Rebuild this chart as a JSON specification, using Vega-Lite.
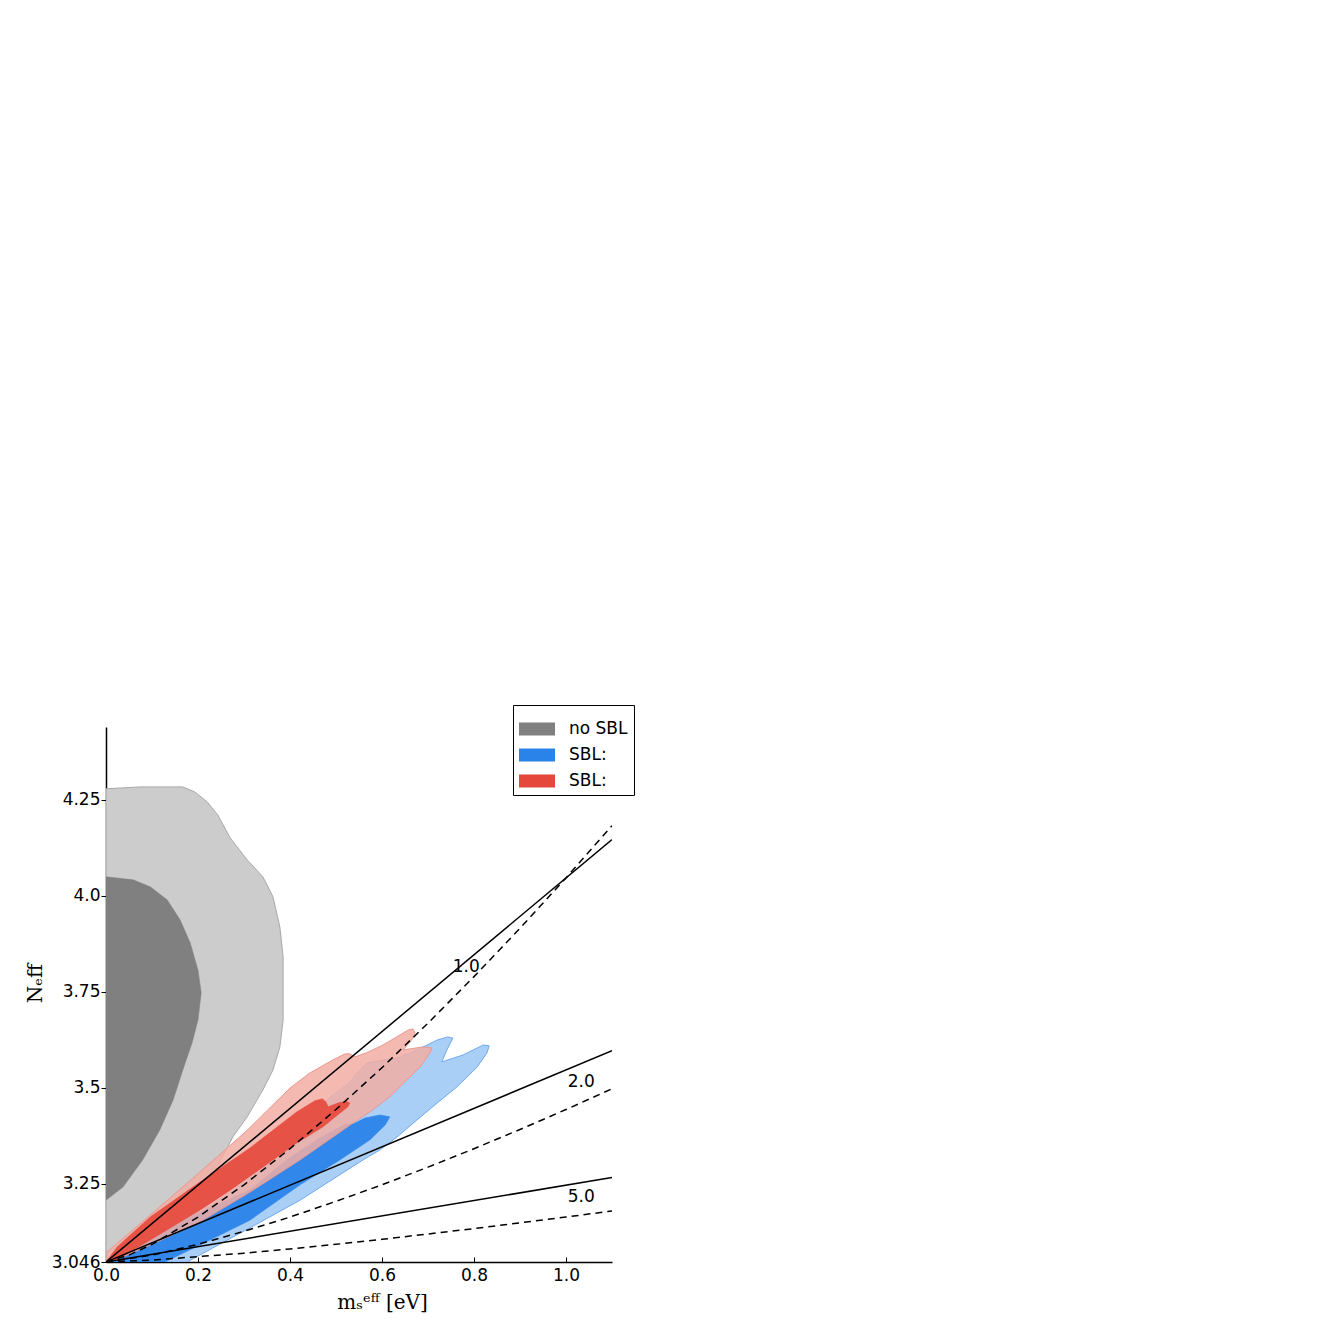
{
  "$schema": "https://vega.github.io/schema/vega-lite/v6.json",
  "autosize": {"type": "none"},
  "width": 506,
  "height": 535,
  "padding": {"left": 106, "top": 727, "right": 728, "bottom": 78},
  "background": "white",
  "config": {
    "view": {"stroke": null},
    "axis": {"grid": false, "domainColor": "black", "tickColor": "black", "labelColor": "black", "titleColor": "black", "labelFont": "DejaVu Sans", "labelFontSize": 17, "labelFlush": false, "labelOverlap": false, "labelBound": false, "domainWidth": 1.5, "tickWidth": 1}
  },
  "datasets": {
    "grayOuter": [
      {"x":0,"y":4.278,"o":1},{"x":0.074,"y":4.283,"o":2},{"x":0.167,"y":4.283,"o":3},{"x":0.193,"y":4.270,"o":4},{"x":0.220,"y":4.244,"o":5},{"x":0.243,"y":4.210,"o":6},{"x":0.270,"y":4.150,"o":7},{"x":0.307,"y":4.093,"o":8},{"x":0.341,"y":4.049,"o":9},{"x":0.363,"y":3.997,"o":10},{"x":0.378,"y":3.918,"o":11},{"x":0.385,"y":3.840,"o":12},{"x":0.385,"y":3.754,"o":13},{"x":0.385,"y":3.676,"o":14},{"x":0.378,"y":3.606,"o":15},{"x":0.363,"y":3.546,"o":16},{"x":0.341,"y":3.494,"o":17},{"x":0.307,"y":3.424,"o":18},{"x":0.276,"y":3.372,"o":19},{"x":0.204,"y":3.207,"o":20},{"x":0.133,"y":3.046,"o":21},{"x":0,"y":3.046,"o":22},{"x":0,"y":4.278,"o":23}
    ],
    "grayInner": [
      {"x":0,"y":4.049,"o":1},{"x":0.059,"y":4.041,"o":2},{"x":0.096,"y":4.023,"o":3},{"x":0.133,"y":3.989,"o":4},{"x":0.161,"y":3.937,"o":5},{"x":0.183,"y":3.877,"o":6},{"x":0.200,"y":3.806,"o":7},{"x":0.207,"y":3.747,"o":8},{"x":0.200,"y":3.676,"o":9},{"x":0.187,"y":3.616,"o":10},{"x":0.167,"y":3.546,"o":11},{"x":0.146,"y":3.468,"o":12},{"x":0.117,"y":3.390,"o":13},{"x":0.080,"y":3.312,"o":14},{"x":0.037,"y":3.241,"o":15},{"x":0,"y":3.207,"o":16},{"x":0,"y":4.049,"o":17}
    ],
    "blueLight": [
      {"x":0.009,"y":3.046,"o":1},{"x":0.046,"y":3.082,"o":2},{"x":0.161,"y":3.176,"o":3},{"x":0.270,"y":3.265,"o":4},{"x":0.378,"y":3.364,"o":5},{"x":0.465,"y":3.450,"o":6},{"x":0.493,"y":3.481,"o":7},{"x":0.524,"y":3.507,"o":8},{"x":0.546,"y":3.538,"o":9},{"x":0.567,"y":3.564,"o":10},{"x":0.602,"y":3.572,"o":11},{"x":0.633,"y":3.577,"o":12},{"x":0.676,"y":3.598,"o":13},{"x":0.720,"y":3.624,"o":14},{"x":0.743,"y":3.632,"o":15},{"x":0.754,"y":3.629,"o":16},{"x":0.741,"y":3.598,"o":17},{"x":0.730,"y":3.567,"o":18},{"x":0.776,"y":3.585,"o":19},{"x":0.820,"y":3.611,"o":20},{"x":0.833,"y":3.609,"o":21},{"x":0.828,"y":3.590,"o":22},{"x":0.807,"y":3.554,"o":23},{"x":0.763,"y":3.502,"o":24},{"x":0.720,"y":3.460,"o":25},{"x":0.676,"y":3.416,"o":26},{"x":0.633,"y":3.372,"o":27},{"x":0.596,"y":3.338,"o":28},{"x":0.559,"y":3.312,"o":29},{"x":0.422,"y":3.207,"o":30},{"x":0.313,"y":3.135,"o":31},{"x":0.176,"y":3.046,"o":32},{"x":0.009,"y":3.046,"o":33}
    ],
    "blueDark": [
      {"x":0.013,"y":3.046,"o":1},{"x":0.096,"y":3.108,"o":2},{"x":0.204,"y":3.176,"o":3},{"x":0.313,"y":3.234,"o":4},{"x":0.400,"y":3.319,"o":5},{"x":0.465,"y":3.369,"o":6},{"x":0.520,"y":3.405,"o":7},{"x":0.537,"y":3.405,"o":8},{"x":0.563,"y":3.421,"o":9},{"x":0.596,"y":3.429,"o":10},{"x":0.617,"y":3.424,"o":11},{"x":0.607,"y":3.403,"o":12},{"x":0.574,"y":3.364,"o":13},{"x":0.509,"y":3.312,"o":14},{"x":0.422,"y":3.247,"o":15},{"x":0.313,"y":3.155,"o":16},{"x":0.204,"y":3.090,"o":17},{"x":0.128,"y":3.046,"o":18},{"x":0.013,"y":3.046,"o":19}
    ],
    "redLight": [
      {"x":0,"y":3.046,"o":1},{"x":0.002,"y":3.072,"o":2},{"x":0.096,"y":3.168,"o":3},{"x":0.204,"y":3.280,"o":4},{"x":0.307,"y":3.389,"o":5},{"x":0.400,"y":3.499,"o":6},{"x":0.443,"y":3.538,"o":7},{"x":0.493,"y":3.572,"o":8},{"x":0.520,"y":3.588,"o":9},{"x":0.530,"y":3.588,"o":10},{"x":0.541,"y":3.580,"o":11},{"x":0.567,"y":3.591,"o":12},{"x":0.602,"y":3.611,"o":13},{"x":0.639,"y":3.637,"o":14},{"x":0.657,"y":3.650,"o":15},{"x":0.667,"y":3.653,"o":16},{"x":0.672,"y":3.643,"o":17},{"x":0.665,"y":3.625,"o":18},{"x":0.646,"y":3.598,"o":19},{"x":0.661,"y":3.601,"o":20},{"x":0.689,"y":3.606,"o":21},{"x":0.709,"y":3.603,"o":22},{"x":0.704,"y":3.590,"o":23},{"x":0.683,"y":3.554,"o":24},{"x":0.654,"y":3.520,"o":25},{"x":0.617,"y":3.476,"o":26},{"x":0.574,"y":3.437,"o":27},{"x":0.537,"y":3.408,"o":28},{"x":0.422,"y":3.312,"o":29},{"x":0.313,"y":3.228,"o":30},{"x":0.204,"y":3.150,"o":31},{"x":0.096,"y":3.090,"o":32},{"x":0.020,"y":3.051,"o":33},{"x":0,"y":3.046,"o":34}
    ],
    "redDark": [
      {"x":0,"y":3.046,"o":1},{"x":0.024,"y":3.085,"o":2},{"x":0.096,"y":3.163,"o":3},{"x":0.204,"y":3.254,"o":4},{"x":0.313,"y":3.343,"o":5},{"x":0.415,"y":3.437,"o":6},{"x":0.454,"y":3.466,"o":7},{"x":0.470,"y":3.471,"o":8},{"x":0.478,"y":3.463,"o":9},{"x":0.483,"y":3.450,"o":10},{"x":0.504,"y":3.460,"o":11},{"x":0.522,"y":3.465,"o":12},{"x":0.530,"y":3.460,"o":13},{"x":0.526,"y":3.450,"o":14},{"x":0.509,"y":3.434,"o":15},{"x":0.472,"y":3.398,"o":16},{"x":0.415,"y":3.356,"o":17},{"x":0.341,"y":3.293,"o":18},{"x":0.270,"y":3.233,"o":19},{"x":0.204,"y":3.181,"o":20},{"x":0.096,"y":3.103,"o":21},{"x":0.030,"y":3.056,"o":22},{"x":0,"y":3.046,"o":23}
    ],
    "lines": [
      {"x":0,"y":3.046,"m":1,"k":"s"},{"x":1.1,"y":4.146,"m":1,"k":"s"},
      {"x":0,"y":3.046,"m":2,"k":"s"},{"x":1.1,"y":3.596,"m":2,"k":"s"},
      {"x":0,"y":3.046,"m":5,"k":"s"},{"x":1.1,"y":3.266,"m":5,"k":"s"},
      {"x":0,"y":3.046,"m":1,"k":"d"},{"x":0.05,"y":3.064,"m":1,"k":"d"},{"x":0.1,"y":3.092,"m":1,"k":"d"},{"x":0.2,"y":3.163,"m":1,"k":"d"},{"x":0.3,"y":3.247,"m":1,"k":"d"},{"x":0.4,"y":3.341,"m":1,"k":"d"},{"x":0.5,"y":3.443,"m":1,"k":"d"},{"x":0.6,"y":3.552,"m":1,"k":"d"},{"x":0.7,"y":3.668,"m":1,"k":"d"},{"x":0.8,"y":3.789,"m":1,"k":"d"},{"x":0.9,"y":3.915,"m":1,"k":"d"},{"x":1.0,"y":4.046,"m":1,"k":"d"},{"x":1.1,"y":4.182,"m":1,"k":"d"},
      {"x":0,"y":3.046,"m":2,"k":"d"},{"x":0.1,"y":3.064,"m":2,"k":"d"},{"x":0.2,"y":3.092,"m":2,"k":"d"},{"x":0.3,"y":3.126,"m":2,"k":"d"},{"x":0.4,"y":3.163,"m":2,"k":"d"},{"x":0.5,"y":3.204,"m":2,"k":"d"},{"x":0.6,"y":3.247,"m":2,"k":"d"},{"x":0.7,"y":3.293,"m":2,"k":"d"},{"x":0.8,"y":3.341,"m":2,"k":"d"},{"x":0.9,"y":3.391,"m":2,"k":"d"},{"x":1.0,"y":3.443,"m":2,"k":"d"},{"x":1.1,"y":3.497,"m":2,"k":"d"},
      {"x":0,"y":3.046,"m":5,"k":"d"},{"x":0.1,"y":3.051,"m":5,"k":"d"},{"x":0.2,"y":3.060,"m":5,"k":"d"},{"x":0.3,"y":3.069,"m":5,"k":"d"},{"x":0.4,"y":3.080,"m":5,"k":"d"},{"x":0.5,"y":3.092,"m":5,"k":"d"},{"x":0.6,"y":3.105,"m":5,"k":"d"},{"x":0.7,"y":3.119,"m":5,"k":"d"},{"x":0.8,"y":3.133,"m":5,"k":"d"},{"x":0.9,"y":3.148,"m":5,"k":"d"},{"x":1.0,"y":3.163,"m":5,"k":"d"},{"x":1.1,"y":3.179,"m":5,"k":"d"}
    ],
    "labels": [
      {"x":0.783,"y":3.814,"t":"1.0"},{"x":1.033,"y":3.515,"t":"2.0"},{"x":1.033,"y":3.215,"t":"5.0"}
    ],
    "legendKeys": [
      {"k":"no SBL"},{"k":"SBL:"},{"k":"SBL: "}
    ]
  },
  "encoding": {
    "x": {"field": "x", "type": "quantitative", "scale": {"domain": [0, 1.1], "nice": false, "zero": false},
      "axis": {"values": [0, 0.2, 0.4, 0.6, 0.8, 1.0], "format": ".1f", "tickSize": -5, "labelPadding": 10, "title": "mₛᵉᶠᶠ [eV]", "titleFont": "DejaVu Serif", "titleFontSize": 20, "titleFontWeight": "normal", "titleX": 276, "titleY": 40, "titleBaseline": "middle"}},
    "y": {"field": "y", "type": "quantitative", "scale": {"domain": [3.046, 4.439], "nice": false, "zero": false},
      "axis": {"values": [3.046, 3.25, 3.5, 3.75, 4.0, 4.25], "labelExpr": "datum.value == 4 ? '4.0' : '' + datum.value", "tickSize": 5, "labelPadding": 1, "title": "Nₑff", "titleFont": "DejaVu Serif", "titleFontSize": 20, "titleFontWeight": "normal", "titleX": -71, "titleY": 256, "titleBaseline": "middle", "titleAngle": -90}}
  },
  "layer": [
    {"data": {"name": "grayOuter"}, "mark": {"type": "line", "fill": "#cccccc", "stroke": "#a8a8a8", "strokeWidth": 1, "clip": true}, "encoding": {"order": {"field": "o", "type": "quantitative"}}},
    {"data": {"name": "grayInner"}, "mark": {"type": "line", "fill": "#808080", "stroke": "#808080", "strokeWidth": 0.5, "clip": true}, "encoding": {"order": {"field": "o", "type": "quantitative"}}},
    {"data": {"name": "blueLight"}, "mark": {"type": "line", "fill": "#a3cbf6", "fillOpacity": 0.92, "stroke": "#6fa9ef", "strokeWidth": 1, "clip": true}, "encoding": {"order": {"field": "o", "type": "quantitative"}}},
    {"data": {"name": "blueDark"}, "mark": {"type": "line", "fill": "#2a83e9", "fillOpacity": 0.95, "stroke": "#2a83e9", "strokeWidth": 0.5, "clip": true}, "encoding": {"order": {"field": "o", "type": "quantitative"}}},
    {"data": {"name": "redLight"}, "mark": {"type": "line", "fill": "#f2aea5", "fillOpacity": 0.85, "stroke": "#ea9890", "strokeWidth": 1, "clip": true}, "encoding": {"order": {"field": "o", "type": "quantitative"}}},
    {"data": {"name": "redDark"}, "mark": {"type": "line", "fill": "#e5473a", "fillOpacity": 0.9, "stroke": "#e5473a", "strokeWidth": 0.5, "strokeOpacity": 0.9, "clip": true}, "encoding": {"order": {"field": "o", "type": "quantitative"}}},
    {"data": {"name": "lines"}, "transform": [{"filter": "datum.k == 's'"}], "mark": {"type": "line", "color": "black", "strokeWidth": 1.5, "clip": true}, "encoding": {"detail": {"field": "m", "type": "nominal"}}},
    {"data": {"name": "lines"}, "transform": [{"filter": "datum.k == 'd'"}], "mark": {"type": "line", "color": "black", "strokeWidth": 1.5, "strokeDash": [7, 5], "clip": true}, "encoding": {"detail": {"field": "m", "type": "nominal"}}},
    {"data": {"name": "labels"}, "mark": {"type": "text", "font": "DejaVu Sans", "fontSize": 17, "color": "black", "align": "center", "baseline": "middle"}, "encoding": {"text": {"field": "t", "type": "nominal"}}},
    {"data": {"name": "legendKeys"}, "mark": {"type": "point", "filled": true, "size": 0, "shape": "square"},
      "encoding": {"x": {"value": 0}, "y": {"value": 0},
        "fill": {"field": "k", "type": "nominal", "scale": {"domain": ["no SBL", "SBL:", "SBL: "], "range": ["#808080", "#2a83e9", "#e5473a"]},
          "legend": {"title": null, "orient": "none", "legendX": 407, "legendY": -22, "symbolType": "M-1,-0.36H1V0.36H-1Z", "symbolSize": 1296, "symbolStrokeWidth": 0, "symbolOpacity": 1, "labelFont": "DejaVu Sans", "labelFontSize": 17, "labelColor": "black", "labelOffset": 14, "padding": 6, "rowPadding": -1, "strokeColor": "black", "fillColor": "white"}}}}
  ]
}
